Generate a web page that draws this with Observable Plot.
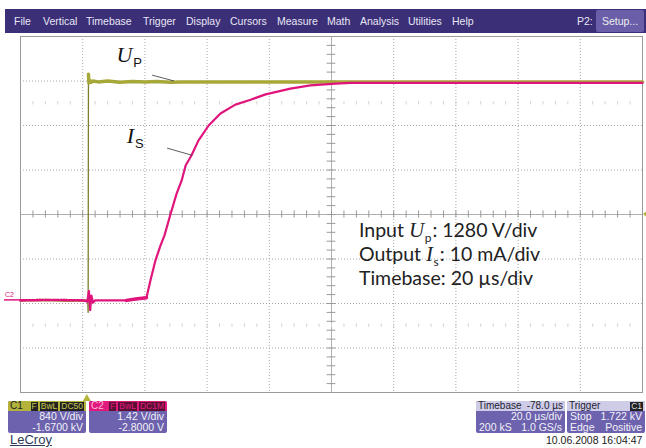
<!DOCTYPE html>
<html><head><meta charset="utf-8">
<script src="https://cdn.jsdelivr.net/npm/d3@7"></script>
<script src="https://cdn.jsdelivr.net/npm/@observablehq/plot@0.6"></script>
<style>
body{margin:0;background:#fff;}
#wrap{position:relative;width:646px;height:448px;overflow:hidden;background:#fff;font-family:"Liberation Sans",Arial,sans-serif;}
#menu{position:absolute;left:5px;top:9px;width:641px;height:24px;background:#3b2f78;color:#e8e6f4;font-size:10.5px;}
#menu span{position:absolute;top:6px;}
#setup{position:absolute;left:596px;top:1px;width:48px;height:22px;background:#6a5ea8;border-radius:2px;color:#eee;font-size:10.5px;line-height:22px;text-align:center;}
.box{position:absolute;background:#6c62ad;color:#f2f2f8;font-size:10.5px;border-radius:2px;overflow:hidden;white-space:nowrap;}
.hdr{height:10px;line-height:10px;font-size:10px;padding:0 2px;position:relative;}
.row{height:11px;line-height:11px;padding:0 3px;position:relative;}
.chip{display:inline-block;background:#222;padding:0 1px;margin-left:2px;line-height:9px;font-size:8.5px;}
svg{position:absolute;left:0;top:0;}
</style></head>
<body><div id="wrap"></div>
<script>
// ---- data (time in µs across 10 divisions of 20 µs; amplitude in divisions) ----
const upT = [0, 8, 15, 20, 21.6, 21.75, 21.85, 22.0, 22.3, 22.7, 23.2, 25, 28, 32, 36, 40, 44, 48, 52, 60, 80, 120, 160, 200];
const upV = [-1.93, -1.92, -1.94, -1.93, -1.93, -2.2, 3.15, 2.96, 3.01, 2.97, 3.0, 2.98, 3.0, 2.97, 2.99, 2.98, 2.99, 2.97, 2.98, 2.98, 2.98, 2.98, 2.98, 2.98];
const isT = [0, 10, 20, 21.5, 22.0, 22.4, 22.8, 23.3, 24, 30, 34.1, 37.0, 40.5, 41.8, 43.4, 45.0, 46.3, 48.2, 50.2, 51.8, 53.1, 55.0, 57.2, 60.5, 64.3, 69.1, 74.0, 78.8, 86.8, 93.2, 101.3, 106.1, 130, 160, 200];
const isV = [-1.93, -1.92, -1.93, -1.95, -1.72, -2.15, -1.82, -1.98, -1.93, -1.93, -1.93, -1.90, -1.87, -1.48, -1.03, -0.70, -0.47, 0.0, 0.47, 0.76, 1.10, 1.33, 1.66, 2.0, 2.27, 2.47, 2.58, 2.70, 2.83, 2.90, 2.94, 2.96, 2.96, 2.96, 2.96];
const xDiv = d3.range(0, 201, 20);
const yDiv = d3.range(-4, 4.01, 1);
const xMinor = d3.range(0, 200.01, 4);
const yMinor = d3.range(-4, 4.01, 0.2);
const trigT = 21.5;
const menuItems = [["File",14],["Vertical",43],["Timebase",86],["Trigger",143],["Display",186],["Cursors",230],["Measure",277],["Math",327],["Analysis",360],["Utilities",408],["Help",452]];

const up = upT.map((t,i)=>({t, v:upV[i]}));
const is = isT.map((t,i)=>({t, v:isV[i]}));
const OLIVE = "#a8a83a", MAG = "#e0157c", GRID = "#a8a8a8";

const plot = Plot.plot({
  width: 646, height: 448,
  marginLeft: 20, marginRight: 4, marginTop: 36, marginBottom: 56,
  x: {domain: [0, 200], axis: null},
  y: {domain: [-4, 4], axis: null},
  style: {background: "transparent"},
  marks: [
    Plot.ruleX(xDiv.filter(d => d !== 100), {stroke: GRID, strokeDasharray: "1,2", strokeWidth: 1}),
    Plot.ruleY(yDiv.filter(d => d !== 0), {stroke: GRID, strokeDasharray: "1,2", strokeWidth: 1}),
    Plot.ruleX([100], {stroke: "#b0b0b0", strokeWidth: 1}),
    Plot.ruleY([0], {stroke: "#b0b0b0", strokeWidth: 1}),
    Plot.ruleX(xMinor, {y1: -0.08, y2: 0.08, stroke: "#999", strokeWidth: 1}),
    Plot.ruleY(yMinor, {x1: 98.6, x2: 101.4, stroke: "#999", strokeWidth: 1}),
    Plot.ruleX(xMinor, {y1: 2.46, y2: 2.54, stroke: "#d4d4d4", strokeWidth: 1}),
    Plot.ruleX(xMinor, {y1: -2.54, y2: -2.46, stroke: "#d4d4d4", strokeWidth: 1}),
    Plot.frame({stroke: "#9a9a9a"}),
    Plot.line(up, {x: "t", y: "v", stroke: "#7d7d2e", strokeWidth: 1.3}),
    Plot.line(up.filter(d => d.t > 21.8), {x: "t", y: "v", stroke: OLIVE, strokeWidth: 3.5}),
    Plot.line(up.filter(d => d.t < 21.7), {x: "t", y: "v", stroke: OLIVE, strokeWidth: 2.5}),
    Plot.line(is.filter(d => d.t > 21), {x: "t", y: "v", stroke: MAG, strokeWidth: 2.2}),
    Plot.line(is.filter(d => d.t <= 21.5), {x: "t", y: "v", stroke: MAG, strokeWidth: 2.6, strokeDasharray: "6,2"}),
    Plot.line(is.filter(d => d.t >= 34 && d.t <= 41), {x: "t", y: "v", stroke: MAG, strokeWidth: 3.5})
  ]
});

const wrap = document.getElementById("wrap");
wrap.appendChild(plot);
const X = plot.scale("x"), Y = plot.scale("y");
const svg = d3.select(plot);
const px = t => X.apply(t), py = v => Y.apply(v);

// trigger markers
const tx = px(trigT), yb = py(-4);
svg.append("path").attr("d", `M${tx},${yb+2} l-4,7 h8 z`).attr("fill", "#b4b43a");
const yz = py(0), xr = px(200);
svg.append("path").attr("d", `M${xr+1},${yz} l5,-4 v8 z`).attr("fill", "#b4b43a");
// C2 marker
svg.append("text").attr("x", 5).attr("y", py(-1.93)-3).attr("text-anchor","start").attr("font-size", 7).attr("fill", MAG).attr("font-family","Liberation Sans").text("C2");
svg.append("line").attr("x1", 4).attr("x2", 20).attr("y1", py(-1.93)).attr("y2", py(-1.93)).attr("stroke", MAG).attr("stroke-width", 1.5);

// labels with leaders
const ser = '"Liberation Serif","DejaVu Serif",serif', sans = '"Liberation Sans",Arial,sans-serif';
function lab(x, y, main, sub){
  const t = svg.append("text").attr("x", x).attr("y", y).attr("text-anchor","start").attr("fill", "#111");
  t.append("tspan").attr("font-family", ser).attr("font-style", "italic").attr("font-size", 22).text(main);
  t.append("tspan").attr("font-family", sans).attr("font-size", 13).attr("dx", 1).attr("dy", 5).text(sub);
}
lab(px(31.0), py(3.42), "U", "P");
svg.append("line").attr("x1", px(42.5)).attr("y1", py(3.12)).attr("x2", px(49.5)).attr("y2", py(2.99)).attr("stroke", "#333").attr("stroke-width", 0.8);
lab(px(34.3), py(1.6), "I", "S");
svg.append("line").attr("x1", px(47.3)).attr("y1", py(1.48)).attr("x2", px(55.3)).attr("y2", py(1.32)).attr("stroke", "#333").attr("stroke-width", 0.8);

// text block
const tf = 'Lato,"Open Sans",sans-serif';
function line2(y, a, m, s, b){
  const t = svg.append("text").attr("x", px(109)).attr("y", y).attr("text-anchor","start").attr("fill", "#222").attr("font-family", tf).attr("font-size", 19.5);
  t.append("tspan").text(a);
  if (m){
    t.append("tspan").attr("font-family", ser).attr("font-style", "italic").attr("font-size", 21).text(m);
    t.append("tspan").attr("font-size", 12).attr("dx", 0.5).attr("dy", 5).text(s);
    t.append("tspan").attr("dx", 1).attr("dy", -5).text(b);
  }
}
line2(237, "Input ", "U", "p", ": 1280 V/div");
line2(261, "Output ", "I", "s", ": 10 mA/div");
line2(285, "Timebase: 20 µs/div", null);

// menu bar
const menu = document.createElement("div"); menu.id = "menu";
menuItems.forEach(([s, x]) => { const e = document.createElement("span"); e.textContent = s; e.style.left = (x-5)+"px"; menu.appendChild(e); });
const p2 = document.createElement("span"); p2.textContent = "P2:"; p2.style.left = "572px"; menu.appendChild(p2);
const su = document.createElement("div"); su.id = "setup"; su.textContent = "Setup..."; su.style.left = "591px"; menu.appendChild(su);
wrap.appendChild(menu);

function box(x, y, w, hdrBg, hdrHtml, rows){
  const b = document.createElement("div"); b.className = "box";
  Object.assign(b.style, {left: x+"px", top: y+"px", width: w+"px", height: "32px"});
  const h = document.createElement("div"); h.className = "hdr"; h.style.background = hdrBg; h.innerHTML = hdrHtml; b.appendChild(h);
  rows.forEach(r => { const e = document.createElement("div"); e.className = "row"; e.innerHTML = r; b.appendChild(e); });
  wrap.appendChild(b);
}
box(8, 401, 78, "#b3b33c", '<span style="color:#222">C1</span><span style="float:right"><span class="chip" style="color:#c8c850">F</span><span class="chip" style="color:#c8c850">BwL</span><span class="chip" style="color:#c8c850">DC50</span></span>',
  ['<div style="text-align:right">840 V/div</div>', '<div style="text-align:right">-1.6700 kV</div>']);
box(89, 401, 78, "#e0197c", '<span style="color:#fbd">C2</span><span style="float:right"><span class="chip" style="color:#e0197c;background:#5a1035">F</span><span class="chip" style="color:#e0197c;background:#5a1035">BwL</span><span class="chip" style="color:#e0197c;background:#5a1035">DC1M</span></span>',
  ['<div style="text-align:right">1.42 V/div</div>', '<div style="text-align:right">-2.8000 V</div>']);
box(476, 401, 89, "#cfcce8", '<span style="color:#223">Timebase</span><span style="float:right;color:#223">-78.0 µs</span>',
  ['<div style="text-align:right">20.0 µs/div</div>', '<span>200 kS</span><span style="float:right">1.0 GS/s</span>']);
box(567, 401, 78, "#cfcce8", '<span style="color:#223">Trigger</span><span style="float:right"><span class="chip" style="color:#ddd">C1</span></span>',
  ['<span>Stop</span><span style="float:right">1.722 kV</span>', '<span>Edge</span><span style="float:right">Positive</span>']);

const lc = document.createElement("div");
Object.assign(lc.style, {position:"absolute", left:"10px", top:"432px", fontSize:"13px", color:"#2c3a5a", fontFamily:'"Liberation Sans",Arial', textDecoration:"underline"});
lc.textContent = "LeCroy"; wrap.appendChild(lc);
const dt = document.createElement("div");
Object.assign(dt.style, {position:"absolute", left:"546px", top:"434px", fontSize:"10.5px", color:"#222", fontFamily:'"Liberation Sans",Arial'});
dt.textContent = "10.06.2008 16:04:47"; wrap.appendChild(dt);
</script></body></html>
